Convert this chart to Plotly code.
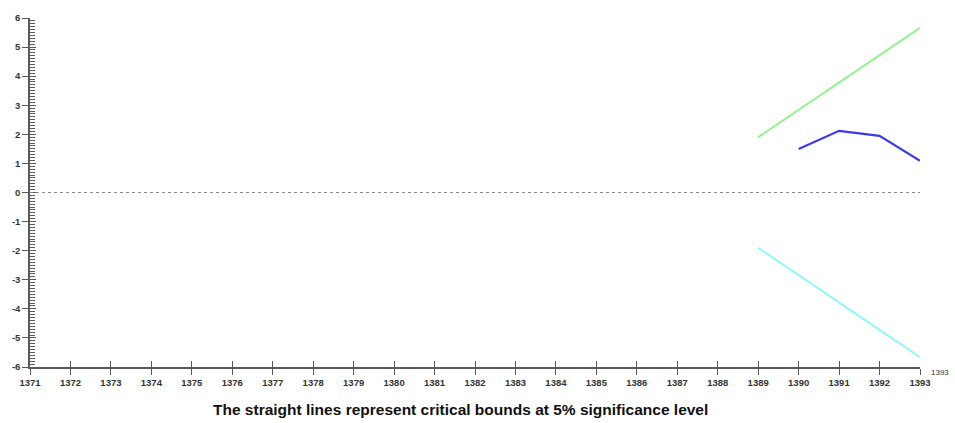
import plotly.graph_objects as go

# CUSUM of recursive residuals with 5% critical bounds
years = list(range(1371, 1394))
year_labels = [str(y) for y in years]

cusum_years = [1390, 1391, 1392, 1393]
cusum_values = [1.50, 2.12, 1.95, 1.09]

bound_years = [1389, 1393]
upper_bound = [1.90, 5.66]
lower_bound = [-1.90, -5.66]

y_ticks = list(range(-6, 7))

axis_color = "#5a5a5a"
label_font = dict(family="Liberation Sans, Arial", size=9.5, color="#333333", weight="bold")

fig = go.Figure()

fig.add_trace(go.Scatter(x=bound_years, y=upper_bound, mode="lines",
                         line=dict(color="#8cf58c", width=2), showlegend=False))
fig.add_trace(go.Scatter(x=bound_years, y=lower_bound, mode="lines",
                         line=dict(color="#8cf8f8", width=2), showlegend=False))
fig.add_trace(go.Scatter(x=cusum_years, y=cusum_values, mode="lines",
                         line=dict(color="#3a3aee", width=2.2), showlegend=False))
# invisible trace so the inner-tick overlay axes are drawn
fig.add_trace(go.Scatter(x=[years[0]], y=[0], xaxis="x2", yaxis="y2", mode="markers",
                         marker=dict(opacity=0), showlegend=False, hoverinfo="skip"))

# dotted zero line
fig.add_shape(type="line", x0=years[0], x1=years[-1], y0=0, y1=0, xref="x", yref="y",
              line=dict(color="#888888", width=1, dash="dot"))

fig.update_layout(
    width=955, height=423,
    margin=dict(l=27, r=35, t=15, b=56),
    paper_bgcolor="white", plot_bgcolor="white",
    xaxis=dict(range=[years[0], years[-1]], tickvals=years, ticktext=year_labels,
               showgrid=False, zeroline=False, showline=True, linecolor=axis_color, linewidth=1.5,
               ticks="outside", ticklen=6, tickcolor=axis_color, tickwidth=1,
               tickfont=label_font),
    yaxis=dict(range=[-6, 6], tickvals=y_ticks, ticktext=[str(v) for v in y_ticks],
               showgrid=False, zeroline=False, showline=True, linecolor=axis_color, linewidth=1.5,
               ticks="outside", ticklen=6, tickcolor=axis_color, tickwidth=1,
               tickfont=label_font),
    xaxis2=dict(overlaying="x", matches="x", anchor="y2", side="bottom",
                tickvals=years, showticklabels=False, showgrid=False, zeroline=False,
                showline=False, ticks="inside", ticklen=6, tickcolor=axis_color, tickwidth=1),
    yaxis2=dict(overlaying="y", matches="y", anchor="x2", side="left",
                tickvals=y_ticks, showticklabels=False, showgrid=False, zeroline=False,
                showline=False, ticks="inside", ticklen=6, tickcolor=axis_color, tickwidth=1,
                minor=dict(dtick=0.1, tick0=0, ticks="inside", ticklen=5,
                           tickcolor=axis_color, tickwidth=1)),
)

fig.add_annotation(x=years[-1], y=0, xref="x", yref="paper", text="1393",
                   showarrow=False, xanchor="left", yanchor="top", xshift=9, yshift=1,
                   font=dict(family="Liberation Sans, Arial", size=8, color="#333333"))

fig.add_annotation(x=0.484, y=0, xref="paper", yref="paper",
                   text="The straight lines represent critical bounds at 5% significance level",
                   showarrow=False, xanchor="center", yanchor="top", yshift=-32,
                   font=dict(family="Liberation Sans, Arial", size=15.5, color="#111111", weight="bold"))

fig.write_html("out.html")
